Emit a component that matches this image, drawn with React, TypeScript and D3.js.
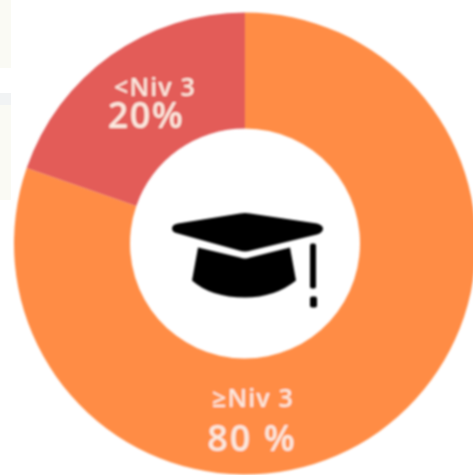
import React from "react";
import * as d3 from "d3";

const categories = ["≥Niv 3", "<Niv 3"];
const shares = [80.3, 19.7];
const valueLabels = ["80 %", "20%"];
const sliceColors = ["#FF8C45", "#E35B58"];

const W = 473, H = 475, CX = 245, CY = 243.5, R = 231, r = 115;

export default function App() {
  const pie = d3.pie<number>().sort(null)(shares);
  const arc = d3.arc<d3.PieArcDatum<number>>().innerRadius(r).outerRadius(R);
  const font = "'Open Sans', 'Noto Sans', sans-serif";
  const textFill = "#FBE9DF";
  const labelPos = [
    { x: 8, y1: 163, y2: 207, vx: 7 },
    { x: -90, y1: -148, y2: -116, vx: -99 },
  ];
  return (
    <svg width={W} height={H} viewBox={`0 0 ${W} ${H}`}
      style={{ position: "fixed", left: 0, top: 0, display: "block", background: "#fff" }}>
      <defs>
        <filter id="soft" x="-5%" y="-5%" width="110%" height="110%">
          <feGaussianBlur stdDeviation="1" />
        </filter>
      </defs>
      <rect x={0} y={0} width={11} height={68} fill="#FAFAF4" />
      <rect x={0} y={93} width={11} height={12} fill="#F1F3F4" />
      <rect x={0} y={105} width={11} height={95} fill="#FAFAF4" />
      <g transform={`translate(${CX},${CY})`} filter="url(#soft)">
        {pie.map((d, i) => (
          <path key={categories[i]} d={arc(d) ?? ""} fill={sliceColors[i]} />
        ))}
        {pie.map((d, i) => (
          <g key={categories[i]} fontFamily={font} fill={textFill} textAnchor="middle" fontWeight={600}>
            <text x={labelPos[i].x} y={labelPos[i].y1} fontSize={25} letterSpacing={1.2}>{categories[i]}</text>
            <text x={labelPos[i].vx} y={labelPos[i].y2} fontSize={36} letterSpacing={i === 0 ? 2 : 1.5}>{valueLabels[i]}</text>
          </g>
        ))}
        <g fill="#000">
          {/* mortarboard */}
          <path d="M-73,-15 Q-73,-19 -67,-20 L-5,-30 Q0,-31 5,-30 L72,-20 Q78,-18 78,-15 Q78,-11 72,-9 L6,7 Q0,9 -6,7 L-67,-10 Q-73,-11 -73,-15 Z" />
          {/* cap */}
          <path d="M-47,4 L-5,14 Q0,16 5,14 L45,4 L51,37 Q30,54 0,54 Q-34,54 -53,37 Z" />
          {/* tassel */}
          <rect x={65} y={0} width={6} height={45} rx={2} />
          <rect x={65} y={53} width={7} height={11} rx={2} />
        </g>
      </g>
    </svg>
  );
}
